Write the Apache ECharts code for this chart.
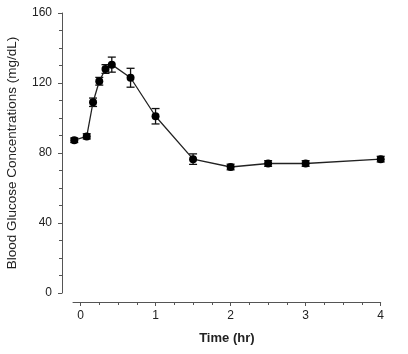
<!DOCTYPE html>
<html>
<head>
<meta charset="utf-8">
<script src="https://cdn.jsdelivr.net/npm/echarts@6/dist/echarts.min.js"></script>
<style>html,body{margin:0;padding:0;background:#fff}#c{width:408px;height:354px}</style>
</head>
<body>
<div id="c"></div>
<script>
const times = [-0.083, 0.083, 0.167, 0.25, 0.333, 0.417, 0.667, 1, 1.5, 2, 2.5, 3, 4];
const glucose = [87.3, 89.5, 109, 121, 128, 130.5, 123, 101, 76.5, 72, 74, 74, 76.5];
const sem = [1.3, 1.5, 2.4, 2.2, 2.5, 4.3, 5.4, 4.4, 3, 1.6, 1.6, 1.6, 1.6];
const xMajor = [0, 1, 2, 3, 4];
const xMinor = [0.25, 0.5, 0.75, 1.25, 1.5, 1.75, 2.25, 2.5, 2.75, 3.25, 3.5, 3.75];
const yTicks = [0, 40, 80, 120, 160];

const chart = echarts.init(document.getElementById('c'));
const axisColor = '#555';
const labelColor = '#222';
const font = 'Liberation Sans, Arial, sans-serif';

const pts = times.map((t, i) => [t, glucose[i]]);
const errs = times.map((t, i) => [t, glucose[i] - sem[i], glucose[i] + sem[i]]);

chart.setOption({
  animation: false,
  grid: { left: 73, right: 27.3, top: 13, bottom: 61, containLabel: false, outerBoundsMode: 'none' },
  xAxis: [{
    type: 'value', min: -0.1, max: 4,
    offset: 9,
    name: 'Time (hr)', nameLocation: 'middle', nameGap: 30,
    nameTextStyle: { fontFamily: font, fontSize: 13, color: labelColor, fontWeight: 'bold' },
    axisLine: { show: true, onZero: false, lineStyle: { color: axisColor, width: 1 } },
    axisTick: { show: true, inside: false, length: 4, customValues: xMajor, lineStyle: { color: axisColor } },
    axisLabel: { customValues: xMajor, margin: 8, fontFamily: font, fontSize: 12, color: labelColor },
    splitLine: { show: false }
  }, {
    type: 'value', min: -0.1, max: 4,
    offset: 9, position: 'bottom',
    axisLine: { show: false, onZero: false },
    axisTick: { show: true, length: 3, customValues: xMinor, lineStyle: { color: axisColor } },
    axisLabel: { show: false },
    splitLine: { show: false }
  }],
  yAxis: {
    type: 'value', min: yTicks[0], max: yTicks[yTicks.length - 1], interval: 40,
    offset: 11,
    name: 'Blood Glucose Concentrations (mg/dL)', nameLocation: 'middle', nameGap: 43,
    nameTextStyle: { fontFamily: font, fontSize: 13.5, color: labelColor },
    axisLine: { show: true, onZero: false, lineStyle: { color: axisColor, width: 1 } },
    axisTick: { show: true, length: 4, lineStyle: { color: axisColor } },
    minorTick: { show: true, splitNumber: 4, length: 3, lineStyle: { color: axisColor } },
    axisLabel: { margin: 10, fontFamily: font, fontSize: 12, color: labelColor },
    splitLine: { show: false }
  },
  series: [{
    type: 'custom',
    xAxisIndex: 0,
    data: errs,
    z: 3,
    renderItem: function (params, api) {
      const x = api.value(0);
      const lo = api.coord([x, api.value(1)]);
      const hi = api.coord([x, api.value(2)]);
      const w = 4;
      const style = { stroke: '#111', lineWidth: 1.3 };
      return {
        type: 'group',
        children: [
          { type: 'line', shape: { x1: lo[0], y1: lo[1], x2: hi[0], y2: hi[1] }, style: style },
          { type: 'line', shape: { x1: lo[0] - w, y1: lo[1], x2: lo[0] + w, y2: lo[1] }, style: style },
          { type: 'line', shape: { x1: hi[0] - w, y1: hi[1], x2: hi[0] + w, y2: hi[1] }, style: style }
        ]
      };
    }
  }, {
    type: 'line',
    xAxisIndex: 0,
    data: pts,
    symbol: 'circle', symbolSize: 8,
    itemStyle: { color: '#000' },
    lineStyle: { color: '#222', width: 1.3 },
    z: 4
  }]
});
</script>
</body>
</html>
